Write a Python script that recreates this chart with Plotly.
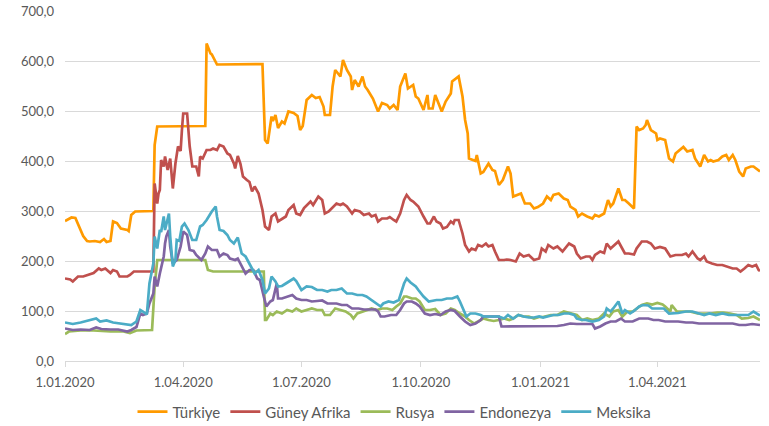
import plotly.graph_objects as go

# ---- Türkiye ----
tr_dates = ["2020-01-01","2020-01-06","2020-01-09","2020-01-13","2020-01-15","2020-01-18","2020-01-20","2020-01-24","2020-01-28","2020-01-31",
"2020-02-02","2020-02-05","2020-02-07","2020-02-10","2020-02-13","2020-02-18","2020-02-19","2020-02-21","2020-02-24","2020-03-09",
"2020-03-10","2020-03-12","2020-04-18","2020-04-19","2020-04-20","2020-04-22","2020-04-23","2020-04-27","2020-06-01","2020-06-03",
"2020-06-05","2020-06-08","2020-06-09","2020-06-11","2020-06-13","2020-06-16","2020-06-18","2020-06-21","2020-06-25","2020-06-28",
"2020-06-30","2020-07-02","2020-07-05","2020-07-09","2020-07-12","2020-07-15","2020-07-18","2020-07-19","2020-07-23","2020-07-25",
"2020-07-27","2020-07-29","2020-07-31","2020-08-02","2020-08-05","2020-08-08","2020-08-09","2020-08-11","2020-08-14","2020-08-17",
"2020-08-19","2020-08-21","2020-08-25","2020-08-29","2020-09-01","2020-09-05","2020-09-07","2020-09-10","2020-09-13","2020-09-15",
"2020-09-19","2020-09-21","2020-09-25","2020-09-27","2020-09-29","2020-10-03","2020-10-06","2020-10-07","2020-10-10","2020-10-12",
"2020-10-14","2020-10-17","2020-10-20","2020-10-24","2020-10-25","2020-10-30","2020-11-02","2020-11-04","2020-11-06","2020-11-07",
"2020-11-10","2020-11-12","2020-11-13","2020-11-16","2020-11-18","2020-11-22","2020-11-25","2020-11-27","2020-11-30","2020-12-03",
"2020-12-07","2020-12-09","2020-12-11","2020-12-14","2020-12-17","2020-12-20","2020-12-24","2020-12-27","2020-12-30","2021-01-03",
"2021-01-06","2021-01-09","2021-01-11","2021-01-15","2021-01-19","2021-01-22","2021-01-24","2021-01-28","2021-01-30","2021-02-02",
"2021-02-06","2021-02-10","2021-02-12","2021-02-15","2021-02-19","2021-02-22","2021-02-24","2021-02-26","2021-03-02","2021-03-05",
"2021-03-07","2021-03-10","2021-03-14","2021-03-16","2021-03-18","2021-03-21","2021-03-23","2021-03-24","2021-03-27","2021-03-31",
"2021-04-01","2021-04-03","2021-04-07","2021-04-10","2021-04-13","2021-04-15","2021-04-19","2021-04-21","2021-04-24","2021-04-28",
"2021-04-30","2021-05-04","2021-05-07","2021-05-10","2021-05-12","2021-05-14","2021-05-18","2021-05-21","2021-05-24","2021-05-26",
"2021-05-29","2021-05-31","2021-06-03","2021-06-06","2021-06-08","2021-06-12","2021-06-14","2021-06-17","2021-06-19"]
tr_vals = [280,287,286,262,250,240,239,240,238,244,
238,240,279,276,265,262,260,292,299,300,
432,469,470,635,629,615,613,593,594,442,
435,489,480,492,466,479,475,499,496,490,
462,470,522,532,526,528,509,492,492,549,
582,576,569,602,582,569,542,562,549,569,
549,542,525,499,516,512,505,512,502,549,
575,545,552,529,525,502,532,505,505,532,
519,499,519,535,559,569,529,482,455,405,
402,400,412,375,378,395,382,380,352,362,
389,375,329,332,335,315,315,305,308,315,
329,322,332,335,325,322,309,302,289,295,
289,285,292,289,295,322,309,315,345,322,
322,315,305,469,462,465,472,482,462,455,
442,445,442,405,399,415,425,428,419,422,
405,389,412,399,402,399,402,409,412,402,
412,402,379,369,385,389,389,382,379]

# ---- Güney Afrika ----
za_dates = ["2020-01-01","2020-01-05","2020-01-07","2020-01-11","2020-01-15","2020-01-18","2020-01-23","2020-01-27","2020-01-29","2020-02-01",
"2020-02-05","2020-02-07","2020-02-10","2020-02-12","2020-02-18","2020-02-20","2020-02-23","2020-03-09","2020-03-10","2020-03-12",
"2020-03-13","2020-03-14","2020-03-15","2020-03-17","2020-03-18","2020-03-20","2020-03-22","2020-03-24","2020-03-26","2020-03-28",
"2020-03-30","2020-03-31","2020-04-01","2020-04-04","2020-04-06","2020-04-08","2020-04-11","2020-04-13","2020-04-14","2020-04-16",
"2020-04-19","2020-04-22","2020-04-24","2020-04-27","2020-04-29","2020-05-02","2020-05-05","2020-05-07","2020-05-10","2020-05-11",
"2020-05-13","2020-05-15","2020-05-17","2020-05-20","2020-05-22","2020-05-24","2020-05-26","2020-05-29","2020-06-01","2020-06-03",
"2020-06-06","2020-06-08","2020-06-11","2020-06-13","2020-06-16","2020-06-19","2020-06-21","2020-06-25","2020-06-27","2020-06-30",
"2020-07-03","2020-07-05","2020-07-08","2020-07-10","2020-07-14","2020-07-17","2020-07-19","2020-07-22","2020-07-26","2020-07-28",
"2020-07-31","2020-08-02","2020-08-05","2020-08-09","2020-08-11","2020-08-15","2020-08-18","2020-08-22","2020-08-24","2020-08-27",
"2020-08-29","2020-09-01","2020-09-05","2020-09-07","2020-09-10","2020-09-12","2020-09-15","2020-09-18","2020-09-20","2020-09-23",
"2020-09-25","2020-09-29","2020-10-03","2020-10-06","2020-10-08","2020-10-11","2020-10-13","2020-10-16","2020-10-18","2020-10-21",
"2020-10-24","2020-10-26","2020-10-27","2020-10-30","2020-11-02","2020-11-04","2020-11-07","2020-11-09","2020-11-12","2020-11-14",
"2020-11-17","2020-11-20","2020-11-22","2020-11-25","2020-11-27","2020-11-30","2020-12-04","2020-12-06","2020-12-09","2020-12-13",
"2020-12-16","2020-12-19","2020-12-23","2020-12-27","2020-12-31","2021-01-02","2021-01-05","2021-01-07","2021-01-11","2021-01-14",
"2021-01-18","2021-01-23","2021-01-27","2021-01-29","2021-02-01","2021-02-05","2021-02-08","2021-02-10","2021-02-12","2021-02-16",
"2021-02-19","2021-02-21","2021-02-24","2021-02-26","2021-03-02","2021-03-07","2021-03-10","2021-03-14","2021-03-16","2021-03-20",
"2021-03-24","2021-03-27","2021-03-30","2021-04-03","2021-04-07","2021-04-11","2021-04-15","2021-04-20","2021-04-23","2021-04-25",
"2021-04-28","2021-05-02","2021-05-04","2021-05-07","2021-05-09","2021-05-13","2021-05-17","2021-05-21","2021-05-25","2021-05-29",
"2021-06-01","2021-06-04","2021-06-07","2021-06-10","2021-06-13","2021-06-16","2021-06-18","2021-06-19"]
za_vals = [165,163,159,169,169,172,176,185,182,185,
176,182,179,169,169,172,179,179,355,315,
335,342,402,389,409,382,405,345,395,429,
420,462,495,495,429,389,389,369,409,405,
422,422,425,422,432,429,415,412,395,385,
410,395,369,362,358,339,349,335,302,269,
262,289,295,279,284,289,302,312,295,292,
306,312,319,312,329,322,295,299,309,315,
312,315,309,295,302,299,292,295,289,292,
279,285,285,288,282,279,295,322,332,322,
319,309,289,275,275,289,279,275,265,268,
279,275,282,282,255,232,219,225,222,232,
229,235,229,232,219,202,202,203,202,199,
215,209,212,202,205,225,219,232,225,229,
219,235,229,215,205,209,209,202,212,219,
216,235,225,230,239,215,215,213,225,239,
239,235,225,228,225,209,212,212,215,209,
219,205,202,209,199,195,192,192,189,185,
185,179,185,192,189,192,182,180]

# ---- Rusya ----
ru_dates = ["2020-01-01","2020-01-04","2020-01-13","2020-01-23","2020-02-05","2020-02-15","2020-02-20","2020-02-25","2020-03-08","2020-03-09",
"2020-03-10","2020-03-12","2020-04-18","2020-04-20","2020-04-24","2020-06-02","2020-06-03","2020-06-04","2020-06-07","2020-06-09",
"2020-06-12","2020-06-16","2020-06-20","2020-06-24","2020-06-27","2020-07-01","2020-07-05","2020-07-09","2020-07-13","2020-07-17",
"2020-07-19","2020-07-23","2020-07-27","2020-07-31","2020-08-04","2020-08-08","2020-08-10","2020-08-13","2020-08-17","2020-08-20",
"2020-08-24","2020-08-28","2020-09-01","2020-09-05","2020-09-09","2020-09-12","2020-09-15","2020-09-18","2020-09-20","2020-09-24",
"2020-09-27","2020-09-30","2020-10-04","2020-10-08","2020-10-12","2020-10-16","2020-10-20","2020-10-24","2020-10-27","2020-10-31",
"2020-11-04","2020-11-07","2020-11-11","2020-11-14","2020-11-18","2020-11-22","2020-11-26","2020-11-30","2020-12-04","2020-12-08",
"2020-12-11","2020-12-15","2020-12-19","2020-12-23","2020-12-27","2020-12-31","2021-01-03","2021-01-09","2021-01-14","2021-01-19",
"2021-01-24","2021-01-29","2021-02-02","2021-02-06","2021-02-10","2021-02-15","2021-02-19","2021-02-23","2021-02-26","2021-03-02",
"2021-03-05","2021-03-09","2021-03-13","2021-03-16","2021-03-20","2021-03-24","2021-03-28","2021-04-01","2021-04-05","2021-04-07",
"2021-04-11","2021-04-12","2021-04-16","2021-04-21","2021-04-26","2021-05-02","2021-05-07","2021-05-12","2021-05-17","2021-05-22",
"2021-05-27","2021-06-01","2021-06-05","2021-06-10","2021-06-14","2021-06-19"]
ru_vals = [54,59,61,61,59,59,56,61,62,102,
149,202,202,182,179,179,82,82,95,92,
99,95,102,99,105,99,102,105,102,102,
92,92,105,102,99,92,85,95,99,102,
105,102,105,105,102,109,115,129,129,125,
125,119,102,102,104,92,95,105,102,95,
89,82,75,79,85,82,80,82,85,82,
85,92,89,89,85,88,88,92,92,99,
95,92,82,85,82,85,95,89,99,102,
89,99,99,105,112,115,113,116,113,109,
99,112,99,99,99,95,95,95,97,97,
95,92,85,86,89,82]

# ---- Endonezya ----
id_dates = ["2020-01-01","2020-01-07","2020-01-13","2020-01-20","2020-01-25","2020-01-29","2020-02-05","2020-02-11","2020-02-18","2020-02-21",
"2020-02-25","2020-02-28","2020-03-01","2020-03-04","2020-03-06","2020-03-09","2020-03-10","2020-03-12","2020-03-14","2020-03-17",
"2020-03-18","2020-03-19","2020-03-21","2020-03-22","2020-03-24","2020-03-27","2020-03-30","2020-04-01","2020-04-04","2020-04-06",
"2020-04-09","2020-04-11","2020-04-15","2020-04-18","2020-04-20","2020-04-23","2020-04-27","2020-04-29","2020-05-02","2020-05-05",
"2020-05-07","2020-05-11","2020-05-13","2020-05-16","2020-05-19","2020-05-22","2020-05-25","2020-05-28","2020-05-30","2020-06-02",
"2020-06-04","2020-06-07","2020-06-09","2020-06-12","2020-06-13","2020-06-16","2020-06-20","2020-06-24","2020-06-27","2020-07-01",
"2020-07-05","2020-07-09","2020-07-13","2020-07-17","2020-07-21","2020-07-24","2020-07-28","2020-08-01","2020-08-05","2020-08-09",
"2020-08-14","2020-08-18","2020-08-22","2020-08-27","2020-08-29","2020-08-31","2020-09-03","2020-09-08","2020-09-12","2020-09-15",
"2020-09-18","2020-09-20","2020-09-24","2020-09-27","2020-09-30","2020-10-04","2020-10-08","2020-10-12","2020-10-16","2020-10-20",
"2020-10-24","2020-10-27","2020-10-31","2020-11-04","2020-11-08","2020-11-12","2020-11-16","2020-11-18","2020-11-22","2020-11-26",
"2020-11-30","2020-12-02","2020-12-06","2020-12-11","2020-12-16","2020-12-21","2020-12-27","2020-12-31","2021-01-03","2021-01-09",
"2021-01-14","2021-01-19","2021-01-24","2021-01-29","2021-02-03","2021-02-05","2021-02-10","2021-02-12","2021-02-16","2021-02-20",
"2021-02-24","2021-02-28","2021-03-04","2021-03-07","2021-03-13","2021-03-15","2021-03-18","2021-03-21","2021-03-25","2021-03-29",
"2021-04-02","2021-04-07","2021-04-12","2021-04-17","2021-04-23","2021-04-28","2021-05-03","2021-05-08","2021-05-13","2021-05-18",
"2021-05-23","2021-05-29","2021-06-03","2021-06-08","2021-06-13","2021-06-19"]
id_vals = [65,62,63,62,67,64,63,63,59,62,
68,95,92,95,115,135,169,149,175,209,
235,249,262,229,195,202,229,259,252,222,
220,212,202,215,229,222,222,209,215,212,
205,202,205,189,175,182,182,165,162,129,
109,119,122,155,125,125,129,132,125,122,
122,119,120,121,115,115,115,112,112,105,
105,103,103,103,99,89,89,92,92,102,
115,119,119,115,109,95,92,94,92,99,
102,100,89,79,72,75,82,89,89,89,
89,69,69,69,69,69,69,70,69,70,
70,72,75,74,75,74,74,65,69,75,
79,79,85,79,79,82,85,85,85,82,
82,79,79,79,77,77,75,75,74,75,
74,75,72,72,74,72]

# ---- Meksika ----
mx_dates = ["2020-01-01","2020-01-07","2020-01-13","2020-01-20","2020-01-25","2020-01-28","2020-02-02","2020-02-07","2020-02-15","2020-02-21",
"2020-02-25","2020-02-28","2020-03-01","2020-03-04","2020-03-06","2020-03-09","2020-03-10","2020-03-12","2020-03-14","2020-03-15",
"2020-03-17","2020-03-18","2020-03-21","2020-03-22","2020-03-24","2020-03-26","2020-03-27","2020-03-29","2020-03-31","2020-04-02",
"2020-04-05","2020-04-08","2020-04-11","2020-04-14","2020-04-16","2020-04-19","2020-04-23","2020-04-26","2020-04-27","2020-04-29",
"2020-05-02","2020-05-05","2020-05-07","2020-05-10","2020-05-13","2020-05-16","2020-05-19","2020-05-21","2020-05-24","2020-05-26",
"2020-05-29","2020-06-01","2020-06-03","2020-06-06","2020-06-08","2020-06-11","2020-06-13","2020-06-16","2020-06-19","2020-06-21",
"2020-06-25","2020-06-27","2020-07-01","2020-07-05","2020-07-09","2020-07-13","2020-07-17","2020-07-21","2020-07-24","2020-07-28",
"2020-08-01","2020-08-05","2020-08-09","2020-08-13","2020-08-17","2020-08-20","2020-08-24","2020-08-28","2020-08-31","2020-09-02",
"2020-09-06","2020-09-10","2020-09-14","2020-09-18","2020-09-20","2020-09-23","2020-09-27","2020-09-29","2020-10-03","2020-10-07",
"2020-10-09","2020-10-13","2020-10-17","2020-10-21","2020-10-25","2020-10-29","2020-10-31","2020-11-03","2020-11-05","2020-11-08",
"2020-11-12","2020-11-16","2020-11-18","2020-11-22","2020-11-26","2020-11-30","2020-12-04","2020-12-07","2020-12-11","2020-12-15",
"2020-12-19","2020-12-23","2020-12-27","2020-12-31","2021-01-03","2021-01-07","2021-01-11","2021-01-15","2021-01-19","2021-01-23",
"2021-01-27","2021-01-29","2021-02-02","2021-02-05","2021-02-10","2021-02-15","2021-02-19","2021-02-21","2021-02-24","2021-02-26",
"2021-03-02","2021-03-05","2021-03-07","2021-03-11","2021-03-14","2021-03-18","2021-03-21","2021-03-25","2021-03-28","2021-04-01",
"2021-04-06","2021-04-10","2021-04-14","2021-04-17","2021-04-23","2021-04-28","2021-05-03","2021-05-07","2021-05-11","2021-05-16",
"2021-05-21","2021-05-26","2021-05-31","2021-06-05","2021-06-10","2021-06-14","2021-06-17","2021-06-19"]
mx_vals = [77,74,77,81,85,79,81,77,75,72,
79,102,99,93,155,195,249,225,262,258,
289,262,295,249,189,202,242,240,269,275,
262,242,242,269,272,282,299,309,289,262,
260,252,242,235,247,215,209,199,185,175,
182,162,135,145,169,159,149,150,155,158,
165,160,142,149,148,142,142,139,142,142,
145,135,135,132,132,129,122,115,109,115,
119,117,122,155,165,157,149,142,129,119,
120,122,122,125,125,129,119,102,89,95,
95,92,89,89,89,89,85,92,85,92,
89,87,87,89,87,89,92,92,95,95,
92,85,82,82,79,82,89,105,99,105,
119,95,102,95,100,109,112,111,105,105,
105,95,95,96,99,99,95,92,95,92,
95,92,92,92,92,99,95,91]

series_names = ["Türkiye", "Güney Afrika", "Rusya", "Endonezya", "Meksika"]
series_colors = ["#FF9A00", "#C0504D", "#9BBB59", "#8064A2", "#4BACC6"]
series_dates = [tr_dates, za_dates, ru_dates, id_dates, mx_dates]
series_vals = [tr_vals, za_vals, ru_vals, id_vals, mx_vals]

tick_dates = ["2020-01-01", "2020-04-01", "2020-07-01", "2020-10-01", "2021-01-01", "2021-04-01"]
tick_labels = ["1.01.2020", "1.04.2020", "1.07.2020", "1.10.2020", "1.01.2021", "1.04.2021"]

fig = go.Figure()
for name, color, xs, ys in zip(series_names, series_colors, series_dates, series_vals):
    fig.add_trace(go.Scatter(x=xs, y=ys, mode="lines", name=name,
                             line=dict(color=color, width=2.7)))

font_family = "Lato, 'Liberation Sans', sans-serif"
fig.update_layout(
    width=769, height=426,
    margin=dict(l=65, r=9, t=11, b=65),
    paper_bgcolor="white", plot_bgcolor="white",
    separators=",.",
    font=dict(family=font_family, size=13, color="#595959"),
    showlegend=True,
    legend=dict(orientation="h", xref="container", x=0.513, xanchor="center",
                yref="container", y=0.033, yanchor="middle",
                font=dict(size=15, color="#595959"), itemwidth=30,
                traceorder="normal"),
    xaxis=dict(type="date", range=["2020-01-01", "2021-06-19"],
               tickvals=tick_dates, ticktext=tick_labels,
               showgrid=False, showline=True, linecolor="#D9D9D9", linewidth=1,
               ticks="outside", ticklen=5, tickcolor="#D9D9D9",
               tickfont=dict(size=13, color="#595959"), zeroline=False,
               automargin=False, ticklabelstandoff=4),
    yaxis=dict(range=[0, 700], dtick=100, tickformat=".1f",
               showgrid=True, gridcolor="#D9D9D9", gridwidth=1,
               showline=False, zeroline=False, ticks="",
               tickfont=dict(size=13, color="#595959"),
               automargin=False, ticklabelstandoff=10),
)

fig.write_html("out.html",
               config={"displayModeBar": False},
               post_script="document.body.style.margin='0';document.body.style.overflow='hidden';")
